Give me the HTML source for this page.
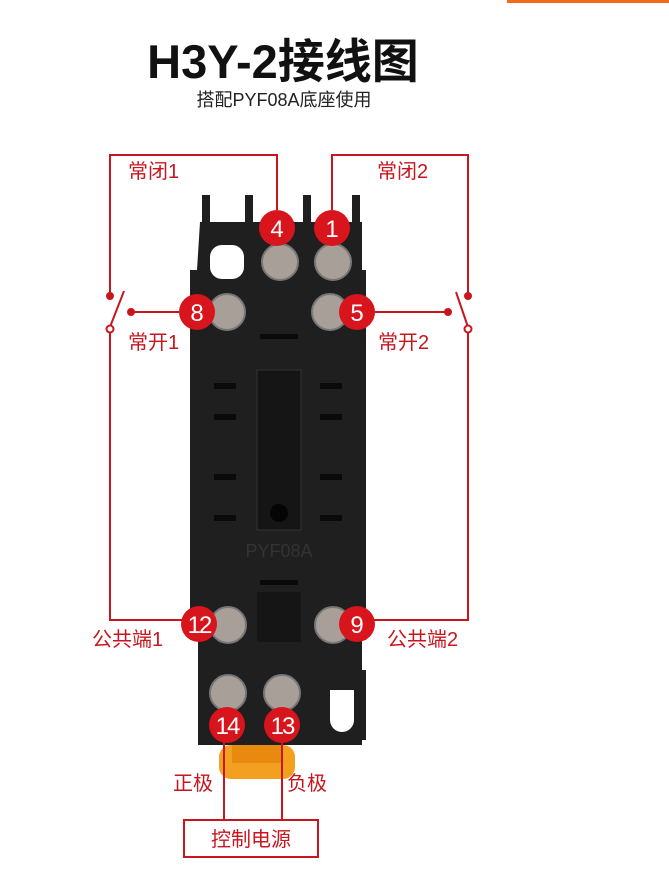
<!DOCTYPE html>
<html><head><meta charset="utf-8"><style>
html,body{margin:0;padding:0;background:#fff;}
svg{display:block;}
text{font-family:"Liberation Sans","Noto Sans CJK SC",sans-serif;}
</style></head><body>
<svg width="669" height="890" viewBox="0 0 669 890">
<rect x="507" y="0" width="162" height="3" fill="#f06a1c"/>
<text x="283" y="78" text-anchor="middle" font-size="47" font-weight="bold" fill="#111">H3Y-2接线图</text>
<text x="284" y="106" text-anchor="middle" font-size="18" fill="#222">搭配PYF08A底座使用</text>

<!-- socket body -->
<g fill="#1f1f1f">
<rect x="202" y="195" width="8" height="30"/>
<rect x="245" y="195" width="8" height="30"/>
<rect x="303" y="195" width="8" height="30"/>
<rect x="352" y="195" width="8" height="30"/>
<path d="M200 222 H362 V270 H366 V640 H362 V745 H198 V640 H190 V270 H197 Z"/>
<rect x="320" y="670" width="46" height="70"/>
</g>
<rect x="210" y="245" width="34" height="34" rx="12" fill="#fff"/>
<path d="M330 690 h24 v30 a12 12 0 0 1 -24 0 z" fill="#fff"/>
<rect x="257" y="370" width="44" height="160" fill="#151515" stroke="#333"/>
<rect x="257" y="592" width="44" height="50" fill="#151515"/>
<g fill="#0a0a0a">
<rect x="214" y="383" width="22" height="6"/><rect x="320" y="383" width="22" height="6"/>
<rect x="214" y="414" width="22" height="6"/><rect x="320" y="414" width="22" height="6"/>
<rect x="214" y="474" width="22" height="6"/><rect x="320" y="474" width="22" height="6"/>
<rect x="214" y="515" width="22" height="6"/><rect x="320" y="515" width="22" height="6"/>
<rect x="260" y="334" width="38" height="5"/><rect x="260" y="580" width="38" height="5"/>
</g>
<circle cx="279" cy="513" r="9" fill="#050505"/>
<text x="279" y="557" text-anchor="middle" font-size="18" fill="#333">PYF08A</text>
<rect x="219" y="745" width="76" height="34" rx="12" fill="#f3a020"/>
<rect x="232" y="745" width="50" height="18" fill="#e88a10"/>

<!-- screws -->
<g stroke="#777" stroke-width="2">
<circle cx="280" cy="262" r="18" fill="#a8a098"/>
<circle cx="333" cy="262" r="18" fill="#a8a098"/>
<circle cx="227" cy="312" r="18" fill="#a8a098"/>
<circle cx="330" cy="312" r="18" fill="#a8a098"/>
<circle cx="228" cy="625" r="18" fill="#a8a098"/>
<circle cx="333" cy="625" r="18" fill="#a8a098"/>
<circle cx="228" cy="693" r="18" fill="#a8a098"/>
<circle cx="282" cy="693" r="18" fill="#a8a098"/>
</g>

<!-- red wiring -->
<g stroke="#c8161e" stroke-width="2" fill="none">
<path d="M277 210 V155 H110 V295"/>
<path d="M110 327 V620 H197"/>
<path d="M110 327 L124 291"/>
<path d="M131 312 H197"/>
<path d="M332 210 V155 H468 V296"/>
<path d="M468 327 V620 H357"/>
<path d="M468 327 L456 292"/>
<path d="M357 312 H448"/>
<path d="M224 725 V820"/>
<path d="M282 725 V820"/>
<rect x="184" y="820" width="134" height="37"/>
</g>
<g fill="#c8161e">
<circle cx="110" cy="296" r="4"/><circle cx="131" cy="312" r="4"/>
<circle cx="468" cy="296" r="4"/><circle cx="448" cy="312" r="4"/>
</g>
<circle cx="110" cy="329" r="3.5" fill="#fff" stroke="#c8161e" stroke-width="2"/>
<circle cx="468" cy="329" r="3.5" fill="#fff" stroke="#c8161e" stroke-width="2"/>
<g fill="#d8141c">
<circle cx="277" cy="228" r="18"/><circle cx="332" cy="228" r="18"/>
<circle cx="197" cy="312" r="18"/><circle cx="357" cy="312" r="18"/>
<circle cx="199" cy="624" r="18"/><circle cx="357" cy="624" r="18"/>
<circle cx="227" cy="725" r="18"/><circle cx="282" cy="725" r="18"/>
</g>
<g fill="#fff" font-size="24" text-anchor="middle">
<text x="277" y="237">4</text><text x="332" y="237">1</text>
<text x="197" y="321">8</text><text x="357" y="321">5</text>
<text x="199" y="633" letter-spacing="-2">12</text><text x="357" y="633">9</text>
<text x="227" y="734" letter-spacing="-2">14</text><text x="282" y="734" letter-spacing="-2">13</text>
</g>
<g fill="#c8161e" font-size="20">
<text x="128" y="178">常闭1</text><text x="377" y="178">常闭2</text>
<text x="128" y="349">常开1</text><text x="378" y="349">常开2</text>
<text x="92" y="646">公共端1</text><text x="387" y="646">公共端2</text>
<text x="173" y="790">正极</text><text x="287" y="790">负极</text>
<text x="251" y="846" text-anchor="middle">控制电源</text>
</g>
</svg>
</body></html>
